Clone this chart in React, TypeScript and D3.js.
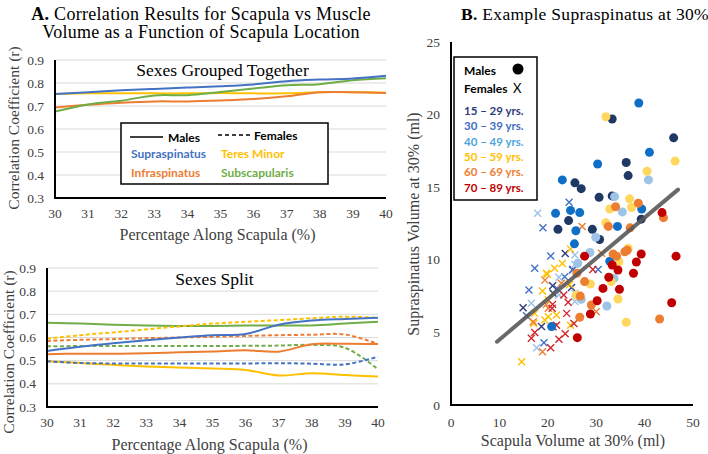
import React, { useEffect, useRef } from "react";
import * as d3 from "d3";

// percentage along scapula
const pct = [30, 31, 32, 33, 34, 35, 36, 37, 38, 39, 40];
const yTicks = [0.3, 0.4, 0.5, 0.6, 0.7, 0.8, 0.9];

// sexes grouped together
const groupSupra = [0.752, 0.76, 0.768, 0.774, 0.78, 0.786, 0.794, 0.808, 0.815, 0.82, 0.832];
const groupInfra = [0.694, 0.705, 0.714, 0.72, 0.72, 0.724, 0.73, 0.742, 0.76, 0.76, 0.757];
const groupTeres = [0.752, 0.755, 0.755, 0.755, 0.755, 0.757, 0.755, 0.755, 0.76, 0.76, 0.758];
const groupSubsc = [0.676, 0.707, 0.723, 0.746, 0.747, 0.761, 0.776, 0.79, 0.795, 0.812, 0.821];

// sexes split
const maleSupra = [0.542, 0.56, 0.575, 0.588, 0.6, 0.61, 0.615, 0.655, 0.673, 0.68, 0.685];
const maleInfra = [0.528, 0.53, 0.53, 0.532, 0.536, 0.54, 0.545, 0.539, 0.571, 0.573, 0.572];
const maleTeres = [0.497, 0.49, 0.482, 0.475, 0.47, 0.466, 0.46, 0.436, 0.446, 0.438, 0.432];
const maleSubsc = [0.664, 0.66, 0.655, 0.652, 0.65, 0.65, 0.652, 0.652, 0.652, 0.66, 0.668];
const femaleSupra = [0.497, 0.49, 0.488, 0.488, 0.488, 0.488, 0.488, 0.489, 0.487, 0.484, 0.517];
const femaleInfra = [0.585, 0.59, 0.593, 0.597, 0.6, 0.603, 0.607, 0.61, 0.612, 0.613, 0.572];
const femaleTeres = [0.595, 0.61, 0.622, 0.635, 0.648, 0.66, 0.668, 0.675, 0.683, 0.69, 0.685];
const femaleSubsc = [0.562, 0.563, 0.563, 0.563, 0.563, 0.563, 0.564, 0.565, 0.568, 0.556, 0.463];

const muscleNames = ["Supraspinatus", "Infraspinatus", "Teres Minor", "Subscapularis"];
const muscleColors = ["#4472c4", "#ed7d31", "#ffc000", "#70ad47"];

// scatter: [scapula volume, supraspinatus volume, age group]
const ageLabels = ["15 – 29 yrs.", "30 – 39 yrs.", "40 – 49 yrs.", "50 – 59 yrs.", "60 – 69 yrs.", "70 – 89 yrs."];
const ageText = ["#2f3b7e", "#3e6fc4", "#4ea6dc", "#ffc000", "#ed7d31", "#c00000"];
const ageDot = ["#1f3864", "#0f6fc6", "#9dc3e6", "#ffd75e", "#ed7d31", "#c00000"];
const ageCross = ["#2f3b7e", "#4472c4", "#9dc3e6", "#ffc000", "#ed7d31", "#d0262e"];

const malePoints: [number, number, number][] = [
  [33.3, 19.7, 0], [46.0, 18.4, 0], [36.2, 16.7, 0], [36.6, 15.8, 0], [25.6, 15.3, 0], [26.9, 14.9, 0],
  [30.6, 14.3, 0], [33.3, 14.4, 0], [39.3, 12.8, 0], [24.3, 12.7, 0], [22.1, 12.1, 0], [29.2, 12.1, 0],
  [30.7, 11.4, 0],
  [38.8, 20.8, 1], [41.0, 17.4, 1], [30.3, 16.6, 1], [23.0, 15.5, 1], [39.4, 13.5, 1], [21.6, 13.2, 1],
  [24.7, 13.4, 1], [26.6, 13.25, 1], [34.4, 12.3, 1], [25.5, 11.1, 1], [32.8, 9.9, 1], [20.8, 5.4, 1],
  [25.8, 12.0, 1],
  [40.8, 15.5, 2], [33.8, 14.35, 2], [35.4, 13.3, 2], [29.9, 11.55, 2], [28.7, 10.5, 2], [26.2, 9.76, 2],
  [33.7, 8.72, 2], [26.9, 7.27, 2], [32.2, 6.82, 2],
  [32.0, 19.85, 3], [46.3, 16.8, 3], [40.5, 16.1, 3], [36.9, 14.2, 3], [32.8, 13.5, 3], [37.3, 13.6, 3],
  [32.0, 12.55, 3], [36.6, 10.8, 3], [34.7, 9.87, 3], [33.1, 8.5, 3], [28.8, 8.33, 3], [34.5, 7.3, 3],
  [36.2, 5.7, 3], [25.9, 7.57, 3],
  [38.7, 13.9, 4], [34.0, 13.65, 4], [43.9, 12.9, 4], [32.5, 12.3, 4], [37.0, 12.2, 4], [33.5, 10.4, 4],
  [34.2, 10.25, 4], [35.9, 10.55, 4], [36.4, 10.65, 4], [26.0, 9.07, 4], [27.6, 8.5, 4], [29.0, 6.89, 4],
  [26.6, 6.04, 4], [43.1, 5.92, 4], [26.7, 7.5, 4],
  [43.6, 13.25, 5], [27.6, 10.25, 5], [39.3, 10.4, 5], [46.5, 10.25, 5], [33.3, 9.64, 5], [34.5, 9.3, 5],
  [38.3, 9.85, 5], [37.7, 9.07, 5], [32.6, 8.8, 5], [31.4, 8.03, 5], [34.8, 7.97, 5], [30.2, 7.18, 5],
  [45.6, 7.04, 5], [28.8, 6.27, 5], [26.1, 4.64, 5],
];

const femalePoints: [number, number, number][] = [
  [23.6, 10.44, 0], [25.2, 9.34, 0], [21.0, 8.22, 0], [21.1, 7.69, 0], [14.9, 6.7, 0], [18.7, 5.4, 0],
  [24.9, 8.1, 0],
  [24.4, 13.96, 1], [19.0, 12.2, 1], [20.6, 10.26, 1], [17.3, 9.41, 1], [16.1, 7.92, 1], [21.9, 8.03, 1],
  [23.5, 8.84, 1], [30.4, 9.34, 1], [25.1, 9.3, 1], [15.6, 6.15, 1], [19.2, 4.29, 1],
  [17.9, 13.2, 2], [16.6, 7.0, 2], [22.3, 7.57, 2], [25.6, 7.69, 2], [25.6, 7.12, 2], [25.6, 9.68, 2],
  [25.6, 10.33, 2], [17.7, 3.95, 2], [22.3, 8.79, 2],
  [14.6, 2.98, 3], [17.1, 5.62, 3], [19.4, 5.85, 3], [20.1, 6.08, 3], [21.8, 6.2, 3], [24.7, 5.5, 3],
  [17.3, 6.31, 3], [18.9, 7.85, 3], [20.1, 7.23, 3], [19.9, 9.0, 3], [21.4, 9.41, 3], [23.0, 9.75, 3],
  [24.7, 10.74, 3], [19.7, 9.07, 3], [24.5, 8.3, 3],
  [27.1, 12.3, 4], [31.1, 10.45, 4], [30.0, 6.43, 4], [17.0, 5.74, 4], [20.1, 6.66, 4], [19.7, 6.93, 4],
  [19.4, 8.6, 4], [22.8, 8.38, 4], [18.9, 3.67, 4],
  [29.3, 9.34, 5], [16.6, 4.6, 5], [17.3, 5.0, 5], [21.1, 5.39, 5], [21.8, 5.5, 5], [22.3, 4.52, 5],
  [23.6, 4.91, 5], [25.4, 5.62, 5], [20.9, 6.66, 5], [21.0, 6.93, 5], [23.9, 6.31, 5], [24.2, 7.07, 5],
  [23.3, 7.57, 5], [20.6, 3.95, 5],
];

// trend line
const trendSlope = 0.28;
const trendIntercept = 1.7;
const trendRange = [9.5, 46.9];

const scatterXTicks = [0, 10, 20, 30, 40, 50];
const scatterYTicks = [0, 5, 10, 15, 20, 25];

const serif = "'Liberation Serif', 'Times New Roman', serif";
const sans = "Lato, 'Open Sans', sans-serif";

function App() {
  const ref = useRef<SVGSVGElement>(null);

  useEffect(() => {
    const svg = d3.select(ref.current);
    svg.selectAll("*").remove();

    // titles
    const t1 = svg.append("text").attr("x", 201).attr("y", 20).attr("text-anchor", "middle")
      .style("font-family", serif).style("font-size", "18px").style("letter-spacing", "0.3px");
    t1.append("tspan").attr("font-weight", "bold").text("A.");
    t1.append("tspan").text(" Correlation Results for Scapula vs Muscle");
    svg.append("text").attr("x", 201).attr("y", 38).attr("text-anchor", "middle")
      .style("font-family", serif).style("font-size", "18px").style("letter-spacing", "0.3px")
      .text("Volume as a Function of Scapula Location");
    const t2 = svg.append("text").attr("x", 585).attr("y", 20).attr("text-anchor", "middle")
      .style("font-family", serif).style("font-size", "17.5px").style("letter-spacing", "0.3px");
    t2.append("tspan").attr("font-weight", "bold").text("B.");
    t2.append("tspan").text(" Example Supraspinatus at 30%");

    function lineChart(opts: {
      left: number; right: number; top: number; bottom: number;
      title: string; titleY: number; ylabelX: number; ylabelY: number; xlabelY: number;
      series: { values: number[]; color: string; dashed: boolean }[];
    }) {
      const x = d3.scaleLinear().domain([30, 40]).range([opts.left, opts.right]);
      const y = d3.scaleLinear().domain([0.3, 0.9]).range([opts.bottom, opts.top]);
      const g = svg.append("g");

      // gridlines
      g.selectAll(".grid").data(yTicks.slice(1)).enter().append("line")
        .attr("x1", opts.left).attr("x2", opts.right)
        .attr("y1", d => y(d)).attr("y2", d => y(d))
        .attr("stroke", "#d9d9d9").attr("stroke-width", 1);

      // lines
      const line = d3.line<number>()
        .x((d, i) => x(pct[i]))
        .y(d => y(d))
        .curve(d3.curveCatmullRom.alpha(0.5));
      opts.series.forEach(s => {
        g.append("path").datum(s.values)
          .attr("fill", "none")
          .attr("stroke", s.color)
          .attr("stroke-width", 2)
          .attr("stroke-dasharray", s.dashed ? "4,2.5" : null)
          .attr("d", line);
      });

      // axes
      g.append("line").attr("x1", opts.left).attr("x2", opts.left)
        .attr("y1", opts.top).attr("y2", opts.bottom).attr("stroke", "#000").attr("stroke-width", 2);
      g.append("line").attr("x1", opts.left - 1).attr("x2", opts.right)
        .attr("y1", opts.bottom).attr("y2", opts.bottom).attr("stroke", "#000").attr("stroke-width", 2);

      g.selectAll(".yt").data(yTicks).enter().append("text")
        .attr("x", opts.left - 11).attr("y", d => y(d) + 4.5)
        .attr("text-anchor", "end")
        .style("font-family", serif).style("font-size", "13.5px").attr("fill", "#404040")
        .text(d => d3.format(".1f")(d));
      g.selectAll(".xt").data(pct).enter().append("text")
        .attr("x", d => x(d)).attr("y", opts.bottom + 20)
        .attr("text-anchor", "middle")
        .style("font-family", serif).style("font-size", "13.5px").attr("fill", "#404040")
        .text(d => d);

      g.append("text").attr("x", (opts.left + opts.right) / 2 + 2).attr("y", opts.titleY)
        .attr("text-anchor", "middle").style("font-family", serif).style("font-size", "17.5px")
        .text(opts.title);
      g.append("text").attr("x", (opts.left + opts.right) / 2 - 3).attr("y", opts.xlabelY)
        .attr("text-anchor", "middle").style("font-family", serif).style("font-size", "16px")
        .attr("fill", "#404040")
        .text("Percentage Along Scapula (%)");
      g.append("text")
        .attr("transform", `translate(${opts.ylabelX},${opts.ylabelY}) rotate(-90)`)
        .attr("text-anchor", "middle").style("font-family", serif).style("font-size", "15.5px")
        .attr("fill", "#404040")
        .text("Correlation Coefficient (r)");
      return g;
    }

    const top = lineChart({
      left: 55, right: 386, top: 60, bottom: 198,
      title: "Sexes Grouped Together", titleY: 76, ylabelX: 19, ylabelY: 128, xlabelY: 240,
      series: [
        { values: groupTeres, color: muscleColors[2], dashed: false },
        { values: groupInfra, color: muscleColors[1], dashed: false },
        { values: groupSubsc, color: muscleColors[3], dashed: false },
        { values: groupSupra, color: muscleColors[0], dashed: false },
      ],
    });

    // legend box
    const lg = top.append("g");
    lg.append("rect").attr("x", 121).attr("y", 123).attr("width", 207).attr("height", 61)
      .attr("fill", "#fff").attr("stroke", "#000").attr("stroke-width", 1.5);
    lg.append("line").attr("x1", 130).attr("x2", 163).attr("y1", 137).attr("y2", 137)
      .attr("stroke", "#000").attr("stroke-width", 1.5);
    lg.append("text").attr("x", 168).attr("y", 142).style("font-family", sans)
      .style("font-size", "12px").style("font-weight", "bold").text("Males");
    lg.append("line").attr("x1", 218).attr("x2", 250).attr("y1", 135).attr("y2", 135)
      .attr("stroke", "#000").attr("stroke-width", 1.5).attr("stroke-dasharray", "4,3");
    lg.append("text").attr("x", 254).attr("y", 140).style("font-family", sans)
      .style("font-size", "12px").style("font-weight", "bold").text("Females");
    const legendPos = [[131, 158], [131, 177], [221, 158], [221, 177]];
    muscleNames.forEach((n, i) => {
      lg.append("text").attr("x", legendPos[i][0]).attr("y", legendPos[i][1])
        .style("font-family", sans).style("font-size", "12px").style("font-weight", "bold")
        .attr("fill", muscleColors[i]).text(n);
    });

    lineChart({
      left: 47, right: 378, top: 268, bottom: 407,
      title: "Sexes Split", titleY: 285, ylabelX: 14, ylabelY: 352, xlabelY: 450,
      series: [
        { values: maleSubsc, color: muscleColors[3], dashed: false },
        { values: femaleTeres, color: muscleColors[2], dashed: true },
        { values: femaleInfra, color: muscleColors[1], dashed: true },
        { values: femaleSubsc, color: muscleColors[3], dashed: true },
        { values: maleInfra, color: muscleColors[1], dashed: false },
        { values: maleTeres, color: muscleColors[2], dashed: false },
        { values: femaleSupra, color: muscleColors[0], dashed: true },
        { values: maleSupra, color: muscleColors[0], dashed: false },
      ],
    });

    // scatter
    const sx = d3.scaleLinear().domain([0, 50]).range([451, 693]);
    const sy = d3.scaleLinear().domain([0, 25]).range([405, 42]);
    const sg = svg.append("g");

    sg.selectAll(".fx").data(femalePoints).enter().append("path")
      .attr("transform", d => `translate(${sx(d[0])},${sy(d[1])})`)
      .attr("d", "M-3.5,-3.5L3.5,3.5M-3.5,3.5L3.5,-3.5")
      .attr("stroke", d => ageCross[d[2]]).attr("stroke-width", 1.4).attr("fill", "none");
    sg.selectAll(".md").data(malePoints).enter().append("circle")
      .attr("cx", d => sx(d[0])).attr("cy", d => sy(d[1])).attr("r", 4.5)
      .attr("fill", d => ageDot[d[2]]);

    sg.append("line")
      .attr("x1", sx(trendRange[0])).attr("y1", sy(trendIntercept + trendSlope * trendRange[0]))
      .attr("x2", sx(trendRange[1])).attr("y2", sy(trendIntercept + trendSlope * trendRange[1]))
      .attr("stroke", "#595959").attr("stroke-width", 4).attr("stroke-linecap", "round")
      .attr("opacity", 0.9);

    sg.append("line").attr("x1", 451).attr("x2", 451).attr("y1", 42).attr("y2", 406)
      .attr("stroke", "#000").attr("stroke-width", 2);
    sg.append("line").attr("x1", 450).attr("x2", 693).attr("y1", 405).attr("y2", 405)
      .attr("stroke", "#000").attr("stroke-width", 2);

    sg.selectAll(".syt").data(scatterYTicks).enter().append("text")
      .attr("x", 440).attr("y", d => sy(d) + 4.5).attr("text-anchor", "end")
      .style("font-family", serif).style("font-size", "13.5px").attr("fill", "#404040")
      .text(d => d);
    sg.selectAll(".sxt").data(scatterXTicks).enter().append("text")
      .attr("x", d => sx(d)).attr("y", 427).attr("text-anchor", "middle")
      .style("font-family", serif).style("font-size", "13.5px").attr("fill", "#404040")
      .text(d => d);
    sg.append("text").attr("x", 573).attr("y", 446).attr("text-anchor", "middle")
      .style("font-family", serif).style("font-size", "16px").attr("fill", "#404040")
      .text("Scapula Volume at 30% (ml)");
    sg.append("text").attr("transform", "translate(419,224) rotate(-90)")
      .attr("text-anchor", "middle")
      .style("font-family", serif).style("font-size", "16px").attr("fill", "#404040")
      .text("Supraspinatus Volume at 30% (ml)");

    // scatter legend
    const sl = sg.append("g");
    sl.append("rect").attr("x", 454).attr("y", 57).attr("width", 83).attr("height", 143)
      .attr("fill", "#fff").attr("stroke", "#000").attr("stroke-width", 1.5);
    sl.append("text").attr("x", 464).attr("y", 75).style("font-family", sans)
      .style("font-size", "12px").style("font-weight", "bold").text("Males");
    sl.append("circle").attr("cx", 518).attr("cy", 69).attr("r", 5.5).attr("fill", "#000");
    sl.append("text").attr("x", 464).attr("y", 93).style("font-family", sans)
      .style("font-size", "12px").style("font-weight", "bold").text("Females");
    sl.append("text").attr("x", 513).attr("y", 93).style("font-family", sans)
      .style("font-size", "13px").text("X");
    ageLabels.forEach((l, i) => {
      sl.append("text").attr("x", 464).attr("y", 115 + i * 15.3)
        .style("font-family", sans).style("font-size", "11.5px").style("font-weight", "bold")
        .attr("fill", ageText[i]).text(l);
    });
  }, []);

  return (
    <div style={{ position: "absolute", left: 0, top: 0 }}>
      <svg ref={ref} width={708} height={454} style={{ background: "#fff", display: "block" }}></svg>
    </div>
  );
}

export default App;
